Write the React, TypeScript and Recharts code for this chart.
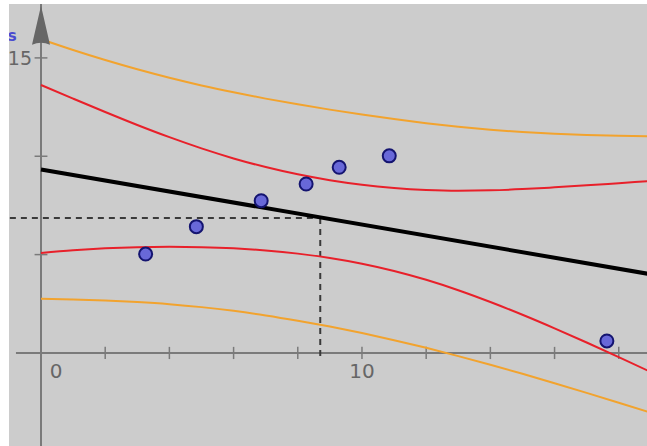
import {
  ComposedChart,
  Line,
  Scatter,
  XAxis,
  YAxis,
  ReferenceLine,
  ReferenceDot,
} from "recharts";

// values
const CURVE_X = [0, 1, 2, 3, 4, 5, 6, 7, 8, 9, 10, 11, 12, 13, 14, 15, 16, 17, 18, 19];
const UPPER_PRED = [15.95, 15.4, 14.89, 14.42, 13.99, 13.6, 13.25, 12.93, 12.64, 12.37, 12.12, 11.89, 11.68, 11.5, 11.35, 11.23, 11.14, 11.08, 11.04, 11.02];
const UPPER_CONF = [13.62, 12.93, 12.25, 11.59, 10.97, 10.4, 9.89, 9.45, 9.08, 8.78, 8.55, 8.39, 8.29, 8.25, 8.27, 8.33, 8.42, 8.52, 8.63, 8.74];
const LOWER_CONF = [5.08, 5.22, 5.32, 5.38, 5.4, 5.38, 5.32, 5.21, 5.05, 4.83, 4.54, 4.17, 3.72, 3.19, 2.59, 1.94, 1.25, 0.53, -0.21, -0.97];
const LOWER_PRED = [2.75, 2.72, 2.67, 2.59, 2.48, 2.33, 2.14, 1.91, 1.64, 1.34, 1.01, 0.65, 0.26, -0.16, -0.6, -1.06, -1.54, -2.03, -2.53, -3.04];

const FIT_X = [0, 19];
const FIT_Y = [9.33, 4.0];

const POINTS_X = [3.26, 4.84, 6.86, 8.26, 9.29, 10.85, 17.63];
const POINTS_Y = [5.03, 6.42, 7.74, 8.59, 9.44, 10.02, 0.61];

const MEAN_X = 8.7;
const MEAN_Y = 6.86;

const X_TICKS = [2, 4, 6, 8, 10, 12, 14, 16, 18];
const Y_TICKS = [5, 10, 15];
const X_LABELS = [0, 10];
const Y_LABELS = [15];

const X_DOMAIN = [-0.997, 18.88];
const Y_DOMAIN = [-4.73, 17.74];

const toSeries = (ys: number[]) => CURVE_X.map((x, i) => ({ x, y: ys[i] }));
const fitData = FIT_X.map((x, i) => ({ x, y: FIT_Y[i] }));
const pointData = POINTS_X.map((x, i) => ({ x, y: POINTS_Y[i] }));

const AXIS = "#7a7a7a";
const RED = "#e8202a";
const ORANGE = "#f2a32e";
const FONT = "DejaVu Sans, Verdana, sans-serif";

export default function App() {
  return (
    <div style={{ position: "absolute", left: 9, top: 4, background: "#cccccc" }}>
      <ComposedChart
        width={638}
        height={442}
        margin={{ top: 0, right: 0, bottom: 0, left: 0 }}
      >
        <XAxis
          type="number"
          dataKey="x"
          domain={X_DOMAIN}
          allowDataOverflow
          hide
        />
        <YAxis
          type="number"
          dataKey="y"
          domain={Y_DOMAIN}
          allowDataOverflow
          hide
        />

        {/* axes through the origin */}
        <ReferenceLine x={0} stroke={AXIS} strokeWidth={2} />
        <ReferenceLine
          segment={[{ x: -0.78, y: 0 }, { x: 18.88, y: 0 }]}
          stroke={AXIS}
          strokeWidth={2}
        />
        {X_TICKS.map((t) => (
          <ReferenceLine
            key={`xt-${t}`}
            segment={[{ x: t, y: -0.31 }, { x: t, y: 0.31 }]}
            stroke={AXIS}
            strokeWidth={1.5}
          />
        ))}
        {Y_TICKS.map((t) => (
          <ReferenceLine
            key={`yt-${t}`}
            segment={[{ x: -0.2, y: t }, { x: 0.2, y: t }]}
            stroke={AXIS}
            strokeWidth={1.5}
          />
        ))}
        {X_LABELS.map((t) => (
          <ReferenceDot
            key={`xl-${t}`}
            x={t}
            y={0}
            r={0}
            shape={(p: any) => (
              <text
                x={p.cx + (t === 0 ? 15 : 0)}
                y={p.cy + 25}
                textAnchor="middle"
                fontSize={20}
                fontFamily={FONT}
                fill="#666"
              >
                {t}
              </text>
            )}
          />
        ))}
        {Y_LABELS.map((t) => (
          <ReferenceDot
            key={`yl-${t}`}
            x={0}
            y={t}
            r={0}
            shape={(p: any) => (
              <text
                x={p.cx - 9}
                y={p.cy + 7}
                textAnchor="end"
                fontSize={19}
                fontFamily={FONT}
                fill="#666"
              >
                {t}
              </text>
            )}
          />
        ))}
        {/* arrow head on the y axis */}
        <ReferenceDot
          x={0}
          y={17.5}
          r={0}
          shape={(p: any) => (
            <path
              d={`M${p.cx},${p.cy - 3} L${p.cx + 9},${p.cy + 36} Q${p.cx},${p.cy + 32} ${p.cx - 9},${p.cy + 36} Z`}
              fill="#666"
            />
          )}
        />
        <ReferenceDot
          x={-0.9}
          y={16.1}
          r={0}
          shape={(p: any) => (
            <text
              x={p.cx}
              y={p.cy + 5}
              textAnchor="middle"
              fontSize={15}
              fontWeight="bold"
              fontFamily={FONT}
              fill="#4a4ad0"
            >
              s
            </text>
          )}
        />

        {/* mean point guides */}
        <ReferenceLine
          segment={[{ x: -0.97, y: MEAN_Y }, { x: MEAN_X, y: MEAN_Y }]}
          stroke="#3a3a3a"
          strokeWidth={2}
          strokeDasharray="6 5"
        />
        <ReferenceLine
          segment={[{ x: MEAN_X, y: MEAN_Y }, { x: MEAN_X, y: -0.4 }]}
          stroke="#3a3a3a"
          strokeWidth={2}
          strokeDasharray="6 5"
        />

        <Line data={toSeries(UPPER_PRED)} dataKey="y" type="monotone" stroke={ORANGE} strokeWidth={2} dot={false} isAnimationActive={false} />
        <Line data={toSeries(LOWER_PRED)} dataKey="y" type="monotone" stroke={ORANGE} strokeWidth={2} dot={false} isAnimationActive={false} />
        <Line data={toSeries(UPPER_CONF)} dataKey="y" type="monotone" stroke={RED} strokeWidth={2} dot={false} isAnimationActive={false} />
        <Line data={toSeries(LOWER_CONF)} dataKey="y" type="monotone" stroke={RED} strokeWidth={2} dot={false} isAnimationActive={false} />
        <Line data={fitData} dataKey="y" type="linear" stroke="#000" strokeWidth={4} dot={false} isAnimationActive={false} />

        <Scatter
          data={pointData}
          dataKey="y"
          fill="#6868d8"
          stroke="#141470"
          strokeWidth={2}
          isAnimationActive={false}
          shape={(p: any) => (
            <circle cx={p.cx} cy={p.cy} r={6.5} fill="#6868d8" stroke="#141470" strokeWidth={2} />
          )}
        />
      </ComposedChart>
    </div>
  );
}
